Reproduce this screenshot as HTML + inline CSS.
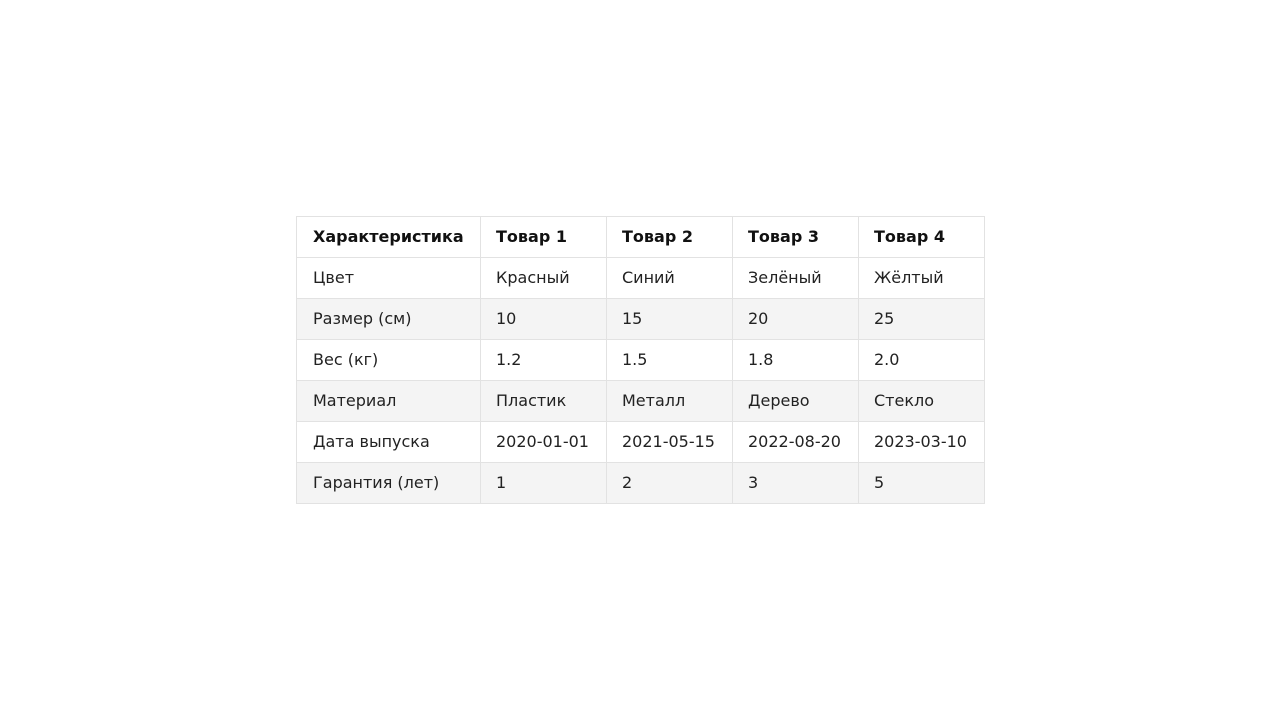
<!DOCTYPE html>
<html><head><meta charset="utf-8"><style>
html,body{margin:0;width:1280px;height:720px;background:#fff;overflow:hidden}
table{position:absolute;left:296px;top:216px;border-collapse:collapse;font-family:"DejaVu Sans","Liberation Sans",sans-serif;font-size:16px;color:#222}
td,th{border:1px solid #e2e2e2;height:41px;padding:0 0 2px 15px;text-align:left;box-sizing:border-box;white-space:nowrap}
td:first-child,th:first-child{padding-left:16px}
th{font-weight:bold;color:#111}
tr.alt td{background:#f4f4f4}
</style></head><body>
<table>
<colgroup><col style="width:184px"><col style="width:126px"><col style="width:126px"><col style="width:126px"><col style="width:126px"></colgroup>
<tr><th>Характеристика</th><th>Товар 1</th><th>Товар 2</th><th>Товар 3</th><th>Товар 4</th></tr>
<tr><td>Цвет</td><td>Красный</td><td>Синий</td><td>Зелёный</td><td>Жёлтый</td></tr>
<tr class="alt"><td>Размер (см)</td><td>10</td><td>15</td><td>20</td><td>25</td></tr>
<tr><td>Вес (кг)</td><td>1.2</td><td>1.5</td><td>1.8</td><td>2.0</td></tr>
<tr class="alt"><td>Материал</td><td>Пластик</td><td>Металл</td><td>Дерево</td><td>Стекло</td></tr>
<tr><td>Дата выпуска</td><td>2020-01-01</td><td>2021-05-15</td><td>2022-08-20</td><td>2023-03-10</td></tr>
<tr class="alt"><td>Гарантия (лет)</td><td>1</td><td>2</td><td>3</td><td>5</td></tr>
</table>
</body></html>
